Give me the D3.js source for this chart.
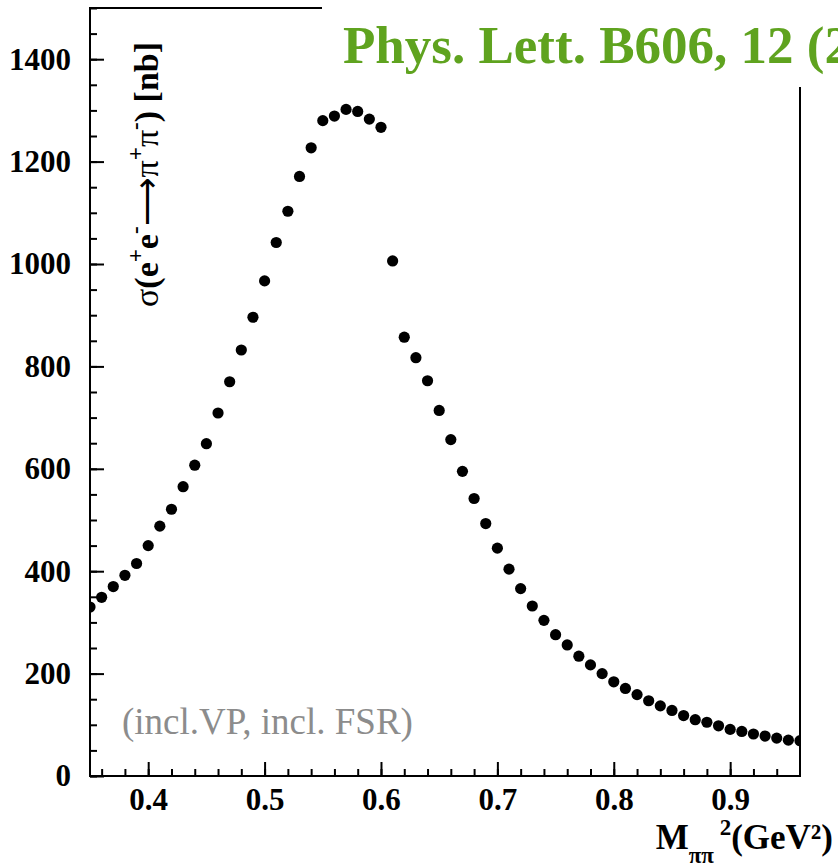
<!DOCTYPE html>
<html>
<head>
<meta charset="utf-8">
<script src="https://cdn.jsdelivr.net/npm/d3@7/dist/d3.min.js"></script>
<style>
  body { margin: 0; background: #fff; }
  svg { display: block; }
  text { font-family: "Liberation Serif", "Times New Roman", serif; }
</style>
</head>
<body>
<div id="chart"></div>
<script>
"use strict";

// M_pipi^2 bins (GeV^2)
var masses = [0.35, 0.36, 0.37, 0.38, 0.39, 0.40, 0.41, 0.42, 0.43, 0.44,
  0.45, 0.46, 0.47, 0.48, 0.49, 0.50, 0.51, 0.52, 0.53, 0.54,
  0.55, 0.56, 0.57, 0.58, 0.59, 0.60, 0.61, 0.62, 0.63, 0.64,
  0.65, 0.66, 0.67, 0.68, 0.69, 0.70, 0.71, 0.72, 0.73, 0.74,
  0.75, 0.76, 0.77, 0.78, 0.79, 0.80, 0.81, 0.82, 0.83, 0.84,
  0.85, 0.86, 0.87, 0.88, 0.89, 0.90, 0.91, 0.92, 0.93, 0.94,
  0.95, 0.96];
// cross section (nb)
var sigma = [330, 349, 370, 392, 415, 450, 488, 521, 565, 607,
  649, 709, 770, 832, 896, 967, 1042, 1103, 1171, 1227,
  1280, 1289, 1302, 1298, 1283, 1267, 1006, 857, 817, 772,
  714, 657, 595, 542, 493, 445, 404, 366, 332, 304,
  276, 256, 234, 217, 200, 184, 171, 159, 147, 137,
  128, 118, 110, 105, 98, 91, 87, 82, 78, 74,
  70, 69];
var xMajor = [0.4, 0.5, 0.6, 0.7, 0.8, 0.9];
var yMajor = [0, 200, 400, 600, 800, 1000, 1200, 1400];
var xDomain = [0.35, 0.96];
var yDomain = [0, 1500];

var W = 838, H = 867;
var frame = {left: 90, right: 800, top: 8, bottom: 776};

var svg = d3.select("#chart").append("svg")
  .attr("width", W)
  .attr("height", H);

var x = d3.scaleLinear().domain(xDomain).range([frame.left, frame.right]);
var y = d3.scaleLinear().domain(yDomain).range([frame.bottom, frame.top]);

svg.append("clipPath")
  .attr("id", "plotclip")
  .append("rect")
    .attr("x", frame.left)
    .attr("y", frame.top)
    .attr("width", frame.right - frame.left)
    .attr("height", frame.bottom - frame.top);

// minor ticks first (no labels)
var xMinor = d3.range(18, 48).map(function(i) { return i / 50; })
  .filter(function(v) { return v >= xDomain[0] && v <= xDomain[1]; });
svg.append("g")
  .attr("transform", "translate(0," + frame.bottom + ")")
  .call(d3.axisBottom(x).tickValues(xMinor).tickSize(-7).tickSizeOuter(0).tickFormat(""))
  .call(function(s) { s.select(".domain").remove(); });
svg.append("g")
  .attr("transform", "translate(" + frame.left + ",0)")
  .call(d3.axisLeft(y).ticks(30).tickSize(-7).tickSizeOuter(0).tickFormat(""))
  .call(function(s) { s.select(".domain").remove(); });

// major ticks + labels
var xAxis = svg.append("g")
  .attr("transform", "translate(0," + frame.bottom + ")")
  .call(d3.axisBottom(x).tickValues(xMajor).tickSize(-14).tickSizeOuter(0).tickPadding(12)
    .tickFormat(d3.format(".1f")));
var yAxis = svg.append("g")
  .attr("transform", "translate(" + frame.left + ",0)")
  .call(d3.axisLeft(y).tickValues(yMajor).tickSize(-14).tickSizeOuter(0).tickPadding(19)
    .tickFormat(d3.format("d")));

[xAxis, yAxis].forEach(function(a) {
  a.select(".domain").remove();
  a.selectAll("text")
    .attr("font-family", "'Liberation Serif', 'Times New Roman', serif")
    .attr("font-size", 31)
    .attr("font-weight", "bold")
    .attr("fill", "#000");
});
svg.selectAll(".tick line")
  .attr("stroke", "#000")
  .attr("stroke-width", 2);

// frame
svg.append("rect")
  .attr("x", frame.left)
  .attr("y", frame.top)
  .attr("width", frame.right - frame.left)
  .attr("height", frame.bottom - frame.top)
  .attr("fill", "none")
  .attr("stroke", "#000")
  .attr("stroke-width", 2);

// data points
svg.append("g")
  .attr("clip-path", "url(#plotclip)")
  .selectAll("circle")
  .data(masses.map(function(m, i) { return [m, sigma[i]]; }))
  .enter()
  .append("circle")
    .attr("cx", function(d) { return x(d[0]); })
    .attr("cy", function(d) { return y(d[1]); })
    .attr("r", 5.6)
    .attr("fill", "#000");

// note
svg.append("text")
  .attr("x", 122)
  .attr("y", 734)
  .attr("font-size", 37)
  .attr("fill", "#8c8c8c")
  .text("(incl.VP, incl. FSR)");

// title pave covers the frame corner
svg.append("rect")
  .attr("x", 322)
  .attr("y", 0)
  .attr("width", W - 322)
  .attr("height", 87)
  .attr("fill", "#fff");
svg.append("text")
  .attr("x", 343)
  .attr("y", 63)
  .attr("font-size", 53)
  .attr("font-weight", "bold")
  .attr("fill", "#5fa31f")
  .text("Phys. Lett. B606, 12 (2005)");

// y title
var yt = svg.append("text")
  .attr("transform", "translate(158,307) rotate(-90)")
  .attr("font-size", 34)
  .attr("font-weight", "bold");
yt.append("tspan").attr("font-weight", "normal").text("\u03c3");
yt.append("tspan").text("(e");
yt.append("tspan").attr("font-size", 23).attr("dy", -15).text("+");
yt.append("tspan").attr("dy", 15).text("e");
yt.append("tspan").attr("font-size", 23).attr("dy", -15).text("-");
yt.append("tspan").attr("dy", 15).attr("font-weight", "normal").text("\u27f6\u03c0");
yt.append("tspan").attr("font-size", 23).attr("dy", -15).text("+");
yt.append("tspan").attr("dy", 15).attr("font-weight", "normal").text("\u03c0");
yt.append("tspan").attr("font-size", 23).attr("dy", -15).text("-");
yt.append("tspan").attr("dy", 15).text(") [nb]");

// x title
var xt = svg.append("text")
  .attr("x", 833)
  .attr("y", 849)
  .attr("text-anchor", "end")
  .attr("font-size", 35)
  .attr("font-weight", "bold");
xt.append("tspan").text("M");
xt.append("tspan").attr("font-size", 23).attr("dy", 14).text("\u03c0\u03c0");
xt.append("tspan").attr("font-size", 23).attr("dy", -28).text(" 2");
xt.append("tspan").attr("dy", 14).text("(GeV\u00b2)");
</script>
</body>
</html>
